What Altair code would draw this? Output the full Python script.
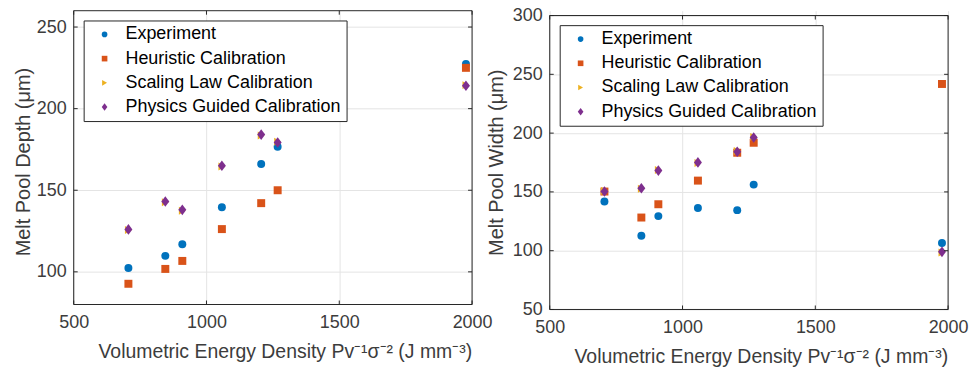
import altair as alt
import pandas as pd

# ---------------- data ----------------
x_vals = [706, 845, 909, 1058, 1206, 1268, 1977]
series = ["Experiment", "Heuristic Calibration", "Scaling Law Calibration",
          "Physics Guided Calibration"]

depth_exp = [102.4, 109.8, 116.9, 139.6, 166.1, 176.6, 227.4]
depth_heur = [92.7, 101.8, 106.7, 126.2, 142.1, 150.0, 225.0]
depth_scal = [125.6, 142.6, 137.5, 164.6, 183.6, 179.7, 214.4]
depth_phys = [126.0, 143.1, 138.0, 165.0, 184.1, 179.3, 214.0]

width_exp = [141.8, 112.7, 129.4, 136.4, 134.5, 156.2, 106.5]
width_heur = [150.3, 128.2, 139.5, 159.6, 183.3, 191.8, 241.8]
width_scal = [150.8, 152.6, 168.6, 174.6, 184.7, 196.8, 98.4]
width_phys = [150.3, 153.1, 168.1, 175.1, 184.2, 196.3, 99.0]

x_ticks = [500, 1000, 1500, 2000]
depth_ticks = [100, 150, 200, 250]
width_ticks = [50, 100, 150, 200, 250, 300]

colors = ["#0072BD", "#D95319", "#EDB120", "#7E2F8E"]
shapes = ["circle", "square", "triangle-right", "M0,-1.33L1,0L0,1.33L-1,0Z"]

x_title = "Volumetric Energy Density Pv\u207B\u00B9\u03C3\u207B\u00B2 (J mm\u207B\u00B3)"

W = 400
AX = "#262626"
TXT = "#3c3c3c"
FONT = "Liberation Sans"


def panel(yvals, y_title, y_domain, y_ticks, y_bottom, y_top, H,
          ytitle_x, ytitle_y, legend_y):
    rows = []
    for s, ys in zip(series, yvals):
        for xv, yv in zip(x_vals, ys):
            rows.append({"x": xv, "y": yv, "series": s})
    df = pd.DataFrame(rows)

    xs = alt.Scale(domain=[500, 2000], nice=False, zero=False)
    ys = alt.Scale(domain=y_domain, nice=False, zero=False)

    pts = alt.Chart(df).mark_point(filled=True, opacity=1, size=64).encode(
        x=alt.X("x:Q", scale=xs,
                axis=alt.Axis(values=x_ticks, title=x_title, labelPadding=9, format="d",
                              domain=False, labelFlush=False,
                              titleFont=FONT, titleFontSize=19.5, titleFontWeight="normal",
                              titleBaseline="alphabetic", titleX=212, titleY=53)),
        y=alt.Y("y:Q", scale=ys,
                axis=alt.Axis(values=y_ticks, title=y_title, labelPadding=7.5, format="d",
                              domain=False, labelFlush=False,
                              titleFontSize=20, titleFontWeight="normal",
                              titleBaseline="middle", titleX=ytitle_x, titleY=ytitle_y)),
        color=alt.Color("series:N", scale=alt.Scale(domain=series, range=colors),
                        legend=alt.Legend(title=None, orient="none", legendX=10, legendY=legend_y)),
        shape=alt.Shape("series:N", scale=alt.Scale(domain=series, range=shapes),
                        legend=alt.Legend(title=None, orient="none", legendX=10, legendY=legend_y)),
    )

    one = pd.DataFrame({"k": [0]})
    xt = pd.DataFrame({"x": x_ticks})
    yt = pd.DataFrame({"y": y_ticks})

    # box edges at the axis limits
    b_bottom = alt.Chart(one).mark_rule(color=AX, strokeWidth=1).encode(
        x=alt.value(0), x2=alt.value(W), y=alt.datum(y_bottom, scale=ys))
    b_top = alt.Chart(one).mark_rule(color=AX, strokeWidth=1).encode(
        x=alt.value(0), x2=alt.value(W), y=alt.datum(y_top))
    b_left = alt.Chart(one).mark_rule(color=AX, strokeWidth=1).encode(
        x=alt.value(0), y=alt.datum(y_bottom), y2=alt.datum(y_top))
    b_right = alt.Chart(one).mark_rule(color=AX, strokeWidth=1).encode(
        x=alt.value(W), y=alt.datum(y_bottom), y2=alt.datum(y_top))

    # inward ticks
    tb = alt.Chart(xt).mark_rule(color=AX, strokeWidth=1, y2Offset=-4).encode(
        x=alt.X("x:Q", scale=xs), y=alt.datum(y_bottom), y2=alt.datum(y_bottom))
    tt = alt.Chart(xt).mark_rule(color=AX, strokeWidth=1, y2Offset=4).encode(
        x=alt.X("x:Q", scale=xs), y=alt.datum(y_top), y2=alt.datum(y_top))
    tl = alt.Chart(yt).mark_rule(color=AX, strokeWidth=1).encode(
        y=alt.Y("y:Q", scale=ys), x=alt.value(0), x2=alt.value(4))
    tr = alt.Chart(yt).mark_rule(color=AX, strokeWidth=1).encode(
        y=alt.Y("y:Q", scale=ys), x=alt.value(W), x2=alt.value(W - 4))

    return alt.layer(pts, b_bottom, b_top, b_left, b_right, tb, tt, tl, tr).properties(
        width=W, height=H)


left = panel([depth_exp, depth_heur, depth_scal, depth_phys],
             "Melt Pool Depth (\u03BCm)", [80, 260], depth_ticks, 80, 260, 295,
             -50.7, 151.5, 9.8)
right = panel([width_exp, width_heur, width_scal, width_phys],
              "Melt Pool Width (\u03BCm)", [50, 304.1], width_ticks, 50, 300, 300,
              -53.3, 152.2, 14.5)

chart = alt.hconcat(left, right, spacing=-7).resolve_scale(
    color="independent", shape="independent"
).resolve_legend(
    color="independent", shape="independent"
).properties(
    padding={"left": 12, "top": 5, "right": 0, "bottom": 0},
    background="#ffffff",
).configure_view(
    stroke="transparent"
).configure_axis(
    labelFont=FONT, labelFontSize=18, labelColor=TXT,
    titleFont=FONT, titleColor=TXT,
    ticks=False, tickSize=0,
    grid=True, gridColor="#e4e4e4", gridWidth=1,
).configure_legend(
    labelFont=FONT, labelFontSize=18, labelColor="#000000",
    symbolSize=32, symbolStrokeWidth=0,
    fillColor="#ffffff", strokeColor=AX, padding=5,
    rowPadding=6.3, labelOffset=12, symbolOffset=7,
    labelLimit=400,
)

chart.save("out.html", embed_options={"renderer": "svg", "actions": False})
